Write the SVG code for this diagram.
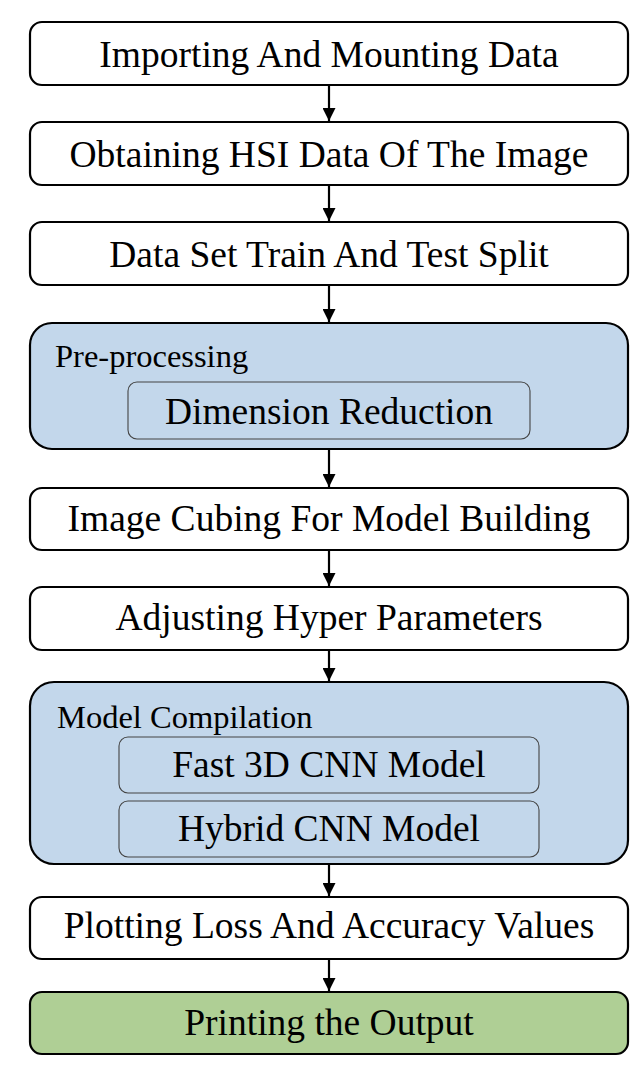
<svg xmlns="http://www.w3.org/2000/svg" width="642" height="1076" viewBox="0 0 642 1076">
<style>
.box{fill:#ffffff;stroke:#000;stroke-width:2.2}
.grp{fill:#C3D7EB;stroke:#000;stroke-width:2.2}
.inner{fill:#C3D7EB;stroke:#444;stroke-width:1.1}
.out{fill:#AFCF95;stroke:#000;stroke-width:2.2}
.t{font-family:"Liberation Serif","Times New Roman",serif;font-size:37.5px;fill:#000;text-anchor:middle}
.lbl{font-family:"Liberation Serif","Times New Roman",serif;font-size:32.5px;fill:#000}
.conn{stroke:#000;stroke-width:2.2;fill:none}
</style>
<defs>
<marker id="ah" markerWidth="14" markerHeight="13" refX="14" refY="7" orient="auto" markerUnits="userSpaceOnUse" viewBox="0 0 14 14">
<path d="M0,0 L14,7 L0,14 Z" fill="#000"/>
</marker>
</defs>
<g id="n1"><rect class="box" x="30" y="22" width="598" height="63" rx="12"/><text class="t" x="329" y="67">Importing And Mounting Data</text></g>
<g id="n2"><rect class="box" x="30" y="122" width="598" height="63" rx="12"/><text class="t" x="329" y="167">Obtaining HSI Data Of The Image</text></g>
<g id="n3"><rect class="box" x="30" y="222" width="598" height="63" rx="12"/><text class="t" x="329" y="267">Data Set Train And Test Split</text></g>
<g id="n4"><rect class="grp" x="30" y="323" width="598" height="126" rx="22"/><text class="lbl" x="55" y="367">Pre-processing</text>
<rect class="inner" x="128" y="382" width="402" height="57" rx="9"/><text class="t" x="329" y="424">Dimension Reduction</text></g>
<g id="n5"><rect class="box" x="30" y="488" width="598" height="62" rx="12"/><text class="t" x="329" y="531">Image Cubing For Model Building</text></g>
<g id="n6"><rect class="box" x="30" y="587" width="598" height="63" rx="12"/><text class="t" x="329" y="630">Adjusting Hyper Parameters</text></g>
<g id="n7"><rect class="grp" x="30" y="682" width="598" height="182" rx="24"/><text class="lbl" x="57" y="728">Model Compilation</text>
<rect class="inner" x="119" y="737" width="420" height="56" rx="9"/><text class="t" x="329" y="777">Fast 3D CNN Model</text>
<rect class="inner" x="119" y="801" width="420" height="56" rx="9"/><text class="t" x="329" y="841">Hybrid CNN Model</text></g>
<g id="n8"><rect class="box" x="30" y="897" width="598" height="62" rx="12"/><text class="t" x="329" y="938">Plotting Loss And Accuracy Values</text></g>
<g id="n9"><rect class="out" x="30" y="992" width="598" height="62" rx="12"/><text class="t" x="329" y="1035">Printing the Output</text></g>
<g id="connectors">
<line class="conn" x1="329" y1="85" x2="329" y2="121" marker-end="url(#ah)"/>
<line class="conn" x1="329" y1="185" x2="329" y2="221" marker-end="url(#ah)"/>
<line class="conn" x1="329" y1="285" x2="329" y2="322" marker-end="url(#ah)"/>
<line class="conn" x1="329" y1="449" x2="329" y2="487" marker-end="url(#ah)"/>
<line class="conn" x1="329" y1="550" x2="329" y2="586" marker-end="url(#ah)"/>
<line class="conn" x1="329" y1="650" x2="329" y2="681" marker-end="url(#ah)"/>
<line class="conn" x1="329" y1="864" x2="329" y2="896" marker-end="url(#ah)"/>
<line class="conn" x1="329" y1="959" x2="329" y2="991" marker-end="url(#ah)"/>
</g>
</svg>
